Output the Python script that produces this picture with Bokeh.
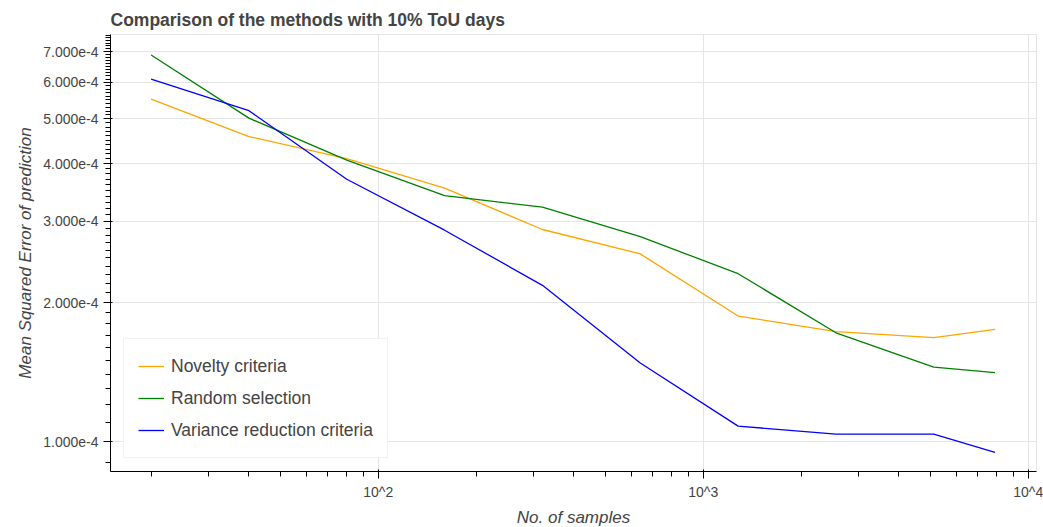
from bokeh.plotting import figure
from bokeh.models import FixedTicker, Range1d
from bokeh.embed import file_html
from bokeh.resources import INLINE

# ---- data ----
samples = [20, 40, 80, 160, 320, 640, 1280, 2560, 5120, 7900]
novelty = [5.52e-4, 4.58e-4, 4.10e-4, 3.54e-4, 2.88e-4, 2.55e-4, 1.87e-4, 1.73e-4, 1.68e-4, 1.75e-4]
random_sel = [6.88e-4, 5.02e-4, 4.07e-4, 3.41e-4, 3.22e-4, 2.78e-4, 2.31e-4, 1.72e-4, 1.45e-4, 1.41e-4]
variance = [6.10e-4, 5.21e-4, 3.70e-4, 2.87e-4, 2.18e-4, 1.48e-4, 1.08e-4, 1.037e-4, 1.037e-4, 9.47e-5]

series_names = ["Novelty criteria", "Random selection", "Variance reduction criteria"]
series_colors = ["orange", "green", "blue"]

x_tick_values = [100, 1000, 10000]
x_tick_labels = ["10^2", "10^3", "10^4"]
y_tick_values = [1e-4, 2e-4, 3e-4, 4e-4, 5e-4, 6e-4, 7e-4]
y_tick_labels = ["1.000e-4", "2.000e-4", "3.000e-4", "4.000e-4", "5.000e-4", "6.000e-4", "7.000e-4"]

FONT = "Liberation Sans"

p = figure(
    x_axis_type="log", y_axis_type="log",
    frame_width=926, frame_height=437,
    min_border_left=110, min_border_right=7, min_border_top=34, min_border_bottom=54,
    x_range=Range1d(15.0, 10600.0), y_range=Range1d(8.61e-5, 7.62e-4),
    title="Comparison of the methods with 10% ToU days",
    output_backend="svg", toolbar_location=None,
)

p.title.text_font = FONT
p.title.text_font_size = "17.5px"
p.title.text_font_style = "bold"
p.title.text_color = "#444444"

for ys, name, col in zip([novelty, random_sel, variance], series_names, series_colors):
    p.line(samples, ys, line_color=col, line_width=1.3, legend_label=name)

x_minor = [k * 10 ** n for n in range(1, 4) for k in range(2, 10)]
y_minor = [i * 1e-5 for i in range(8, 77)]
p.xaxis.ticker = FixedTicker(ticks=x_tick_values, minor_ticks=x_minor)
p.yaxis.ticker = FixedTicker(ticks=y_tick_values, minor_ticks=y_minor)
p.xaxis.major_label_overrides = dict(zip(x_tick_values, x_tick_labels))
p.yaxis.major_label_overrides = dict(zip(y_tick_values, y_tick_labels))

p.xaxis.axis_label = "No. of samples"
p.yaxis.axis_label = "Mean Squared Error of prediction"
for ax in (p.xaxis[0], p.yaxis[0]):
    ax.axis_label_text_font = FONT
    ax.axis_label_text_font_size = "17px"
    ax.axis_label_text_font_style = "italic"
    ax.axis_label_text_color = "#444444"
    ax.major_label_text_font = FONT
    ax.major_label_text_font_size = "14px"
    ax.major_label_text_color = "#444444"
    ax.major_tick_out = 7
    ax.minor_tick_out = 5

p.legend.location = "bottom_left"
p.legend.margin = 13
p.legend.padding = 14
p.legend.spacing = 6
p.legend.glyph_width = 26
p.legend.glyph_height = 26
p.legend.label_height = 26
p.legend.label_standoff = 7
p.legend.label_text_font = FONT
p.legend.label_text_font_size = "17.5px"
p.legend.label_text_color = "#444444"
p.legend.border_line_color = "#e5e5e5"

open("out.html", "w").write(file_html(p, INLINE))
